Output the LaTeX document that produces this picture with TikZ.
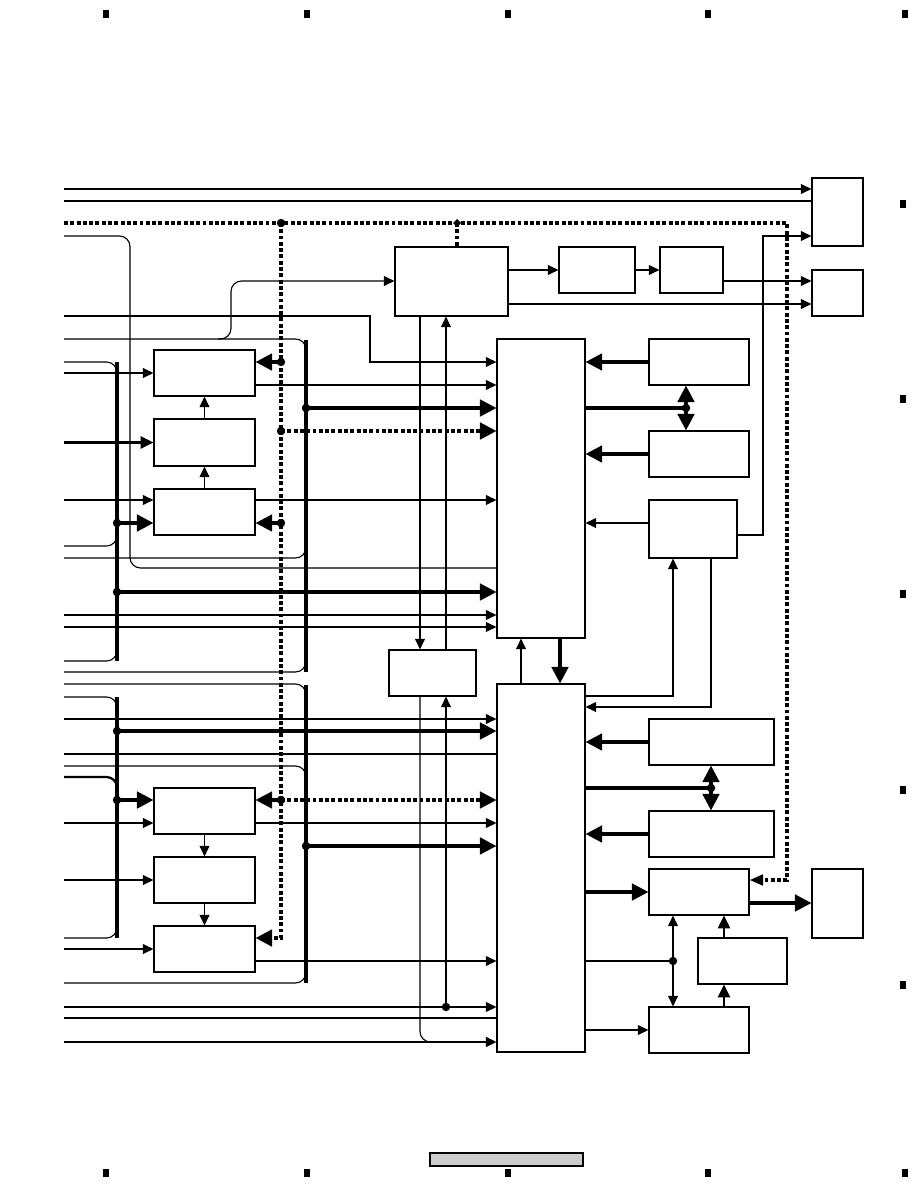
\documentclass[tikz,border=0pt]{standalone}
\usetikzlibrary{arrows.meta,calc,positioning,fit}

\begin{document}
\begin{tikzpicture}[x=0.6667pt, y=-0.6667pt,
    blk/.style={draw, line width=0.75pt, inner sep=0pt},
    sig/.style={line width=0.75pt},
    med/.style={line width=1.5pt},
    fat/.style={line width=2.2pt},
    dots/.style={line width=2.2pt, dash pattern=on 2.6pt off 1.6pt},
    sarr/.style={-{Triangle[length=7pt,width=6.5pt]}},
    marr/.style={-{Triangle[length=8.5pt,width=8pt]}},
    darr/.style={-{Triangle[length=9pt,width=7pt]}},
    larr/.style={-{Triangle[length=11pt,width=11pt]}},
    rnd/.style={rounded corners=7pt}
  ]
  \useasboundingbox (0,0) rectangle (918,1188);

  % page marks
  \foreach \mx in {106,307,508,708,905} {
    \fill (\mx-3,10) rectangle (\mx+3,18);
    \fill (\mx-3,1169) rectangle (\mx+3,1177);
  }
  \foreach \my in {204,399,594,790,985}
    \fill (900,\my-4) rectangle (906,\my+4);
  \node[draw, fill=black!20, line width=0.75pt, inner sep=0pt, fit={(430,1153) (583,1166)}] (tag) {};

  % upper chain
  \node[blk, fit={(154,350) (255,396)}] (B1) {};
  \node[blk, fit={(154,419) (255,466)}] (B2) {};
  \node[blk, fit={(154,489) (255,535)}] (B3) {};
  % lower chain
  \node[blk, fit={(154,788) (255,834)}] (C1) {};
  \node[blk, fit={(154,857) (255,903)}] (C2) {};
  \node[blk, fit={(154,926) (255,972)}] (C3) {};
  % top row
  \node[blk, fit={(395,247) (508,316)}] (T1) {};
  \node[blk, fit={(559,247) (635,293)}] (T2) {};
  \node[blk, fit={(660,247) (723,293)}] (T3) {};
  \node[blk, fit={(812,178) (863,246)}] (R1) {};
  \node[blk, fit={(812,270) (863,316)}] (R2) {};
  \node[blk, fit={(812,869) (863,938)}] (R3) {};
  % centre
  \node[blk, fit={(389,650) (476,696)}] (S) {};
  \node[blk, fit={(497,339) (585,638)}] (M1) {};
  \node[blk, fit={(497,684) (585,1052)}] (M2) {};
  % right column
  \node[blk, fit={(649,339) (749,385)}] (P1) {};
  \node[blk, fit={(649,431) (749,477)}] (P2) {};
  \node[blk, fit={(649,500) (737,558)}] (P3) {};
  \node[blk, fit={(649,719) (774,765)}] (Q1) {};
  \node[blk, fit={(649,811) (774,857)}] (Q2) {};
  \node[blk, fit={(649,869) (749,915)}] (Q3) {};
  \node[blk, fit={(698,938) (787,984)}] (Q4) {};
  \node[blk, fit={(649,1007) (749,1053)}] (Q5) {};

  % left edge and junctions
  \coordinate (lft) at (64,0);
  \coordinate (d1) at (281,223);
  \coordinate (d2) at (457,223);
  \coordinate (d3) at (281,362);
  \coordinate (d4) at (281,431);
  \coordinate (d5) at (281,523);
  \coordinate (d6) at (281,800);
  \coordinate (b1) at (306,408);
  \coordinate (b2) at (306,846);
  \coordinate (a1) at (117,523);
  \coordinate (a2) at (117,592);
  \coordinate (a3) at (117,731);
  \coordinate (a4) at (117,800);
  \coordinate (e1) at (686,408);
  \coordinate (e2) at (711,788);
  \coordinate (e3) at (673,961);
  \coordinate (v1) at (446,1007);

  % top lines
  \draw[sig, sarr] (lft |- 0,189) -- (R1.west |- 0,189);
  \draw[sig] (lft |- 0,201) -- (R1.west |- 0,201);
  \draw[sig, sarr] (P3.east |- 0,535) -- (763,535) -- (763,236) -- (R1.west |- 0,236);

  % dotted control lines
  \draw[dots, darr] (lft |- d1) -- (787,223) -- (787,880) -- (Q3.east |- 0,880);
  \draw[dots] (d2) -- (d2 |- T1.north);
  \draw[dots, larr] (d1) -- (281,938) -- (C3.east |- 0,938);
  \draw[fat, larr] (d3) -- (B1.east |- d3);
  \draw[fat, larr] (d5) -- (B3.east |- d5);
  \draw[fat, larr] (d6) -- (C1.east |- d6);
  \draw[dots, larr] (d4) -- (M1.west |- d4);
  \draw[dots, larr] (d6) -- (M2.west |- d6);

  % T1 row
  \draw[sig, rnd, sarr] (218,339) -- (231,339) -- (231,281) -- (T1.west |- 0,281);
  \draw[sig, sarr] (lft |- 0,316) -- (370,316) -- (370,362) -- (M1.west |- 0,362);
  \draw[sig, sarr] (T1.east |- T2.west) -- (T2.west);
  \draw[sig, sarr] (T2.east) -- (T3.west);
  \draw[sig, sarr] (T3.east |- 0,281) -- (R2.west |- 0,281);
  \draw[sig, sarr] (T1.east |- 0,304) -- (R2.west |- 0,304);
  \draw[sig, sarr] (T1.south -| 420,0) -- (S.north -| 420,0);
  \draw[sig, sarr] (S.north -| 446,0) -- (T1.south -| 446,0);
  \draw[sig, sarr] (v1) -- (S.south -| v1);
  \draw[sig, rnd] (S.south -| 420,0) -- (420,1042) -- (445,1042);

  % upper bus bars
  \draw[sig, rnd] (lft |- 0,339) -- (306,339) -- (306,360);
  \draw[sig, rnd] (lft |- 0,558) -- (306,558) -- (306,540);
  \draw[sig, rnd] (lft |- 0,672) -- (306,672) -- (306,655);
  \draw[fat] (306,340) -- (306,672);
  \draw[sig, rnd] (lft |- 0,362) -- (117,362) -- (117,378);
  \draw[sig, rnd] (lft |- 0,546) -- (117,546) -- (117,530);
  \draw[sig, rnd] (lft |- 0,661) -- (117,661) -- (117,645);
  \draw[fat] (117,362) -- (117,661);
  \draw[sig, rnd] (lft |- 0,236) -- (130,236) -- (130,568) -- (M1.west |- 0,568);

  % upper chain signals
  \draw[sig, sarr] (lft |- B1.west) -- (B1.west);
  \draw[med, marr] (lft |- B2.west) -- (B2.west);
  \draw[sig, sarr] (lft |- 0,500) -- (B3.west |- 0,500);
  \draw[fat, larr] (a1) -- (B3.west |- a1);
  \draw[sig, sarr] (B2.north) -- (B1.south);
  \draw[sig, sarr] (B3.north) -- (B2.south);
  \draw[sig, sarr] (B1.east |- 0,385) -- (M1.west |- 0,385);
  \draw[fat, larr] (b1) -- (M1.west |- b1);
  \draw[sig, sarr] (B3.east |- 0,500) -- (M1.west |- 0,500);
  \draw[fat, larr] (a2) -- (M1.west |- a2);
  \draw[sig, sarr] (lft |- 0,615) -- (M1.west |- 0,615);
  \draw[sig, sarr] (lft |- 0,627) -- (M1.west |- 0,627);

  % M1 right side
  \draw[fat, larr] (P1.west) -- (M1.east |- P1.west);
  \draw[fat, larr] (P2.west) -- (M1.east |- P2.west);
  \draw[fat] (M1.east |- e1) -- (e1);
  \draw[fat, larr] (e1) -- (P1.south -| e1);
  \draw[fat, larr] (e1) -- (P2.north -| e1);
  \draw[sig, sarr] (P3.west |- 0,523) -- (M1.east |- 0,523);

  % M1 and M2
  \draw[fat, larr] (M1.south -| 560,0) -- (M2.north -| 560,0);
  \draw[sig, sarr] (M2.north -| 521,0) -- (M1.south -| 521,0);
  \draw[sig, sarr] (M2.east |- 0,696) -- (673,696) -- (P3.south -| 673,0);
  \draw[sig, sarr] (P3.south -| 711,0) -- (711,707) -- (M2.east |- 0,707);

  % lower bus bars
  \draw[sig, rnd] (lft |- 0,684) -- (306,684) -- (306,700);
  \draw[sig, rnd] (lft |- 0,766) -- (306,766) -- (306,782);
  \draw[sig, rnd] (lft |- 0,983) -- (306,983) -- (306,967);
  \draw[fat] (306,685) -- (306,983);
  \draw[sig, rnd] (lft |- 0,697) -- (117,697) -- (117,713);
  \draw[med, rnd] (lft |- 0,777) -- (117,777) -- (117,793);
  \draw[sig, rnd] (lft |- 0,938) -- (117,938) -- (117,922);
  \draw[fat] (117,697) -- (117,938);

  % lower chain signals
  \draw[sig, sarr] (lft |- 0,719) -- (M2.west |- 0,719);
  \draw[fat, larr] (a3) -- (M2.west |- a3);
  \draw[med] (lft |- 0,754) -- (M2.west |- 0,754);
  \draw[fat, larr] (a4) -- (C1.west |- a4);
  \draw[sig, sarr] (lft |- 0,823) -- (C1.west |- 0,823);
  \draw[sig, sarr] (C1.east |- 0,823) -- (M2.west |- 0,823);
  \draw[fat, larr] (b2) -- (M2.west |- b2);
  \draw[sig, sarr] (lft |- C2.west) -- (C2.west);
  \draw[sig, sarr] (lft |- C3.west) -- (C3.west);
  \draw[sig, sarr] (C3.east |- 0,961) -- (M2.west |- 0,961);
  \draw[sig, sarr] (C1.south) -- (C2.north);
  \draw[sig, sarr] (C2.south) -- (C3.north);
  \draw[sig, sarr] (lft |- v1) -- (M2.west |- v1);
  \draw[sig] (lft |- 0,1018) -- (M2.west |- 0,1018);
  \draw[med, sarr] (lft |- 0,1042) -- (M2.west |- 0,1042);

  % M2 right side
  \draw[fat, larr] (Q1.west) -- (M2.east |- Q1.west);
  \draw[fat] (M2.east |- e2) -- (e2);
  \draw[fat, larr] (e2) -- (Q1.south -| e2);
  \draw[fat, larr] (e2) -- (Q2.north -| e2);
  \draw[fat, larr] (Q2.west) -- (M2.east |- Q2.west);
  \draw[fat, larr] (M2.east |- Q3.west) -- (Q3.west);
  \draw[fat, larr] (Q3.east |- 0,903) -- (R3.west |- 0,903);
  \draw[sig] (M2.east |- e3) -- (e3);
  \draw[sig, sarr] (e3) -- (Q3.south -| e3);
  \draw[sig, sarr] (e3) -- (Q5.north -| e3);
  \draw[med, marr] (Q5.north -| 724,0) -- (Q4.south -| 724,0);
  \draw[med, marr] (Q4.north -| 724,0) -- (Q3.south -| 724,0);
  \draw[sig, sarr] (M2.east |- Q5.west) -- (Q5.west);

  % junction dots
  \foreach \j in {d1,d3,d4,d5,d6,b1,b2,a1,a2,a3,a4,e1,e2,e3,v1}
    \fill (\j) circle (2.8pt);
  \fill (d2) +(-4,0) -- +(0,-4) -- +(4,0) -- +(0,4) -- cycle;
\end{tikzpicture}
\end{document}
